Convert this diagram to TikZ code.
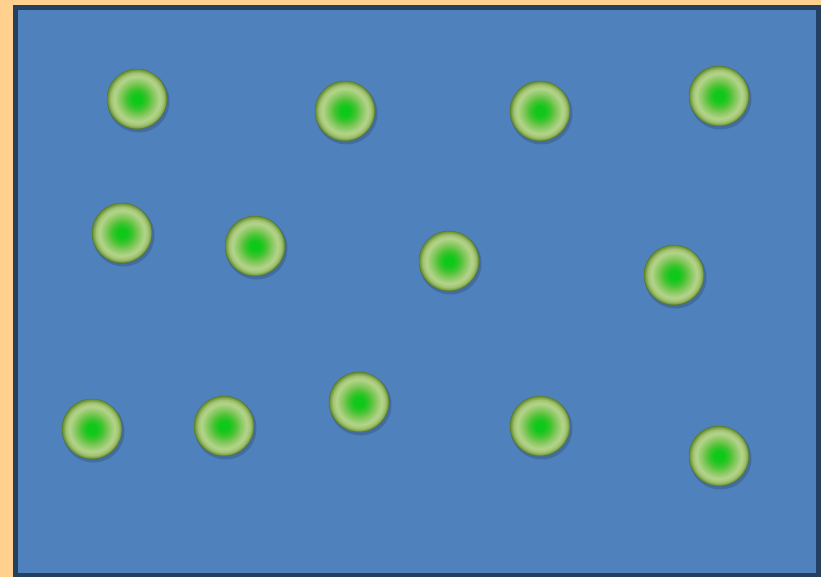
\documentclass[tikz,border=0pt]{standalone}
\definecolor{peach}{RGB}{255,208,142}
\definecolor{boardblue}{RGB}{79,129,189}
\definecolor{boardedge}{RGB}{36,64,96}
\definecolor{gcore}{RGB}{15,200,25}
\definecolor{ga}{RGB}{70,195,50}
\definecolor{gb}{RGB}{135,200,95}
\definecolor{glight}{RGB}{180,212,140}
\definecolor{gouter}{RGB}{160,195,110}
\definecolor{gedge}{RGB}{100,140,50}
\pgfdeclareradialshading{ballshade}{\pgfpoint{0bp}{0bp}}{%
  color(0bp)=(gcore); color(4bp)=(gcore); color(9bp)=(ga); color(14bp)=(gb);
  color(19bp)=(glight); color(22bp)=(gouter); color(25bp)=(gedge); color(50bp)=(gedge)}
\tikzset{
  ballshadow/.style={fill=black, opacity=0.15, draw=none},
  ball/.style={circle, minimum size=60pt, inner sep=0pt, shading=ballshade, draw=gedge!85!black, line width=0.5pt}
}
\begin{document}
\begin{tikzpicture}[x=1pt,y=-1pt]
\useasboundingbox (0,0) rectangle (821,577);
\fill[peach] (0,0) rectangle (821,577);
\draw[boardedge, line width=5pt, fill=boardblue] (15.5,7.5) rectangle (818.5,575.5);
\foreach \n/\px/\py in {a/137/99, b/345/111, c/540/111, d/719/96, e/122/233, f/255/246, g/449/261, h/674/275, i/92/429, j/224/426, k/359/402, l/540/426, m/719/456}{
  \fill[ballshadow] (\px+1.5,\py+2.5) circle (31);
  \node[ball] (\n) at (\px,\py) {};
}
\end{tikzpicture}
\end{document}
